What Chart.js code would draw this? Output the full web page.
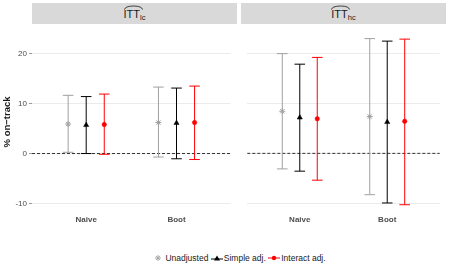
<!DOCTYPE html>
<html>
<head>
<meta charset="utf-8">
<script src="https://cdn.jsdelivr.net/npm/chart.js@4/dist/chart.umd.min.js"></script>
<style>
  body { margin: 0; width: 450px; height: 270px; background: #fff; position: relative; overflow: hidden;
         font-family: "Liberation Sans", Arial, sans-serif; }
  .strip { position: absolute; top: 3px; height: 21px; width: 205px; background: #d9d9d9;
           text-align: center; color: #1a1a1a; }
  .strip .lab { position: relative; display: inline-block; margin-top: 6px; font-size: 11px; line-height: 11px; }
  .strip .lab svg { position: absolute; left: 0; top: -4px; }
  .strip sub { font-size: 7.5px; vertical-align: -2px; }
  canvas { position: absolute; }
  #legend { position: absolute; left: 32px; width: 414px; top: 252px; text-align: center; font-size: 8.5px; color: #1a1a1a; }
  #legend span { display: inline-block; vertical-align: middle; }
  #legend svg { vertical-align: middle; margin-right: 1px; }
</style>
</head>
<body>
<div class="strip" style="left:32px"><span class="lab">ITT<sub>lc</sub><svg width="19" height="5"><path d="M0.5 4.5 Q1 1.2 9.5 1 Q18 1.2 18.5 4.5" stroke="#1a1a1a" stroke-width="0.8" fill="none"/></svg></span></div>
<div class="strip" style="left:241px"><span class="lab">ITT<sub>hc</sub><svg width="19" height="5"><path d="M0.5 4.5 Q1 1.2 9.5 1 Q18 1.2 18.5 4.5" stroke="#1a1a1a" stroke-width="0.8" fill="none"/></svg></span></div>
<canvas id="lc" style="left:0;top:24px"></canvas>
<canvas id="hc" style="left:241px;top:24px"></canvas>
<div id="legend">
  <svg width="12" height="8"><path d="M6 1V7M3 4H9M3.9 1.9L8.1 6.1M8.1 1.9L3.9 6.1" stroke="#a0a0a0" stroke-width="0.9"/></svg><span>Unadjusted</span>
  <svg width="12" height="8"><line x1="0" y1="5" x2="12" y2="5" stroke="#000"/><path d="M6 1.5L9 6.5H3Z" fill="#000"/></svg><span>Simple adj.</span>
  <svg width="12" height="8"><line x1="0" y1="4" x2="12" y2="4" stroke="#f00"/><circle cx="6" cy="4" r="2.2" fill="#f00"/></svg><span>Interact adj.</span>
</div>
<script>
// categories and series
const categories = ['Naive', 'Boot'];
const seriesNames = ['Unadjusted', 'Simple adj.', 'Interact adj.'];
const seriesColors = ['#a0a0a0', '#000000', '#ff0000'];
const seriesShapes = ['star', 'triangle', 'circle'];
const seriesRadius = [3, 3, 2.2];
const dodge = [-0.2, 0, 0.2];
const yTicks = [-10, 0, 10, 20];

// ITT lc  (Naive, Boot)
const lcUnadjEst = [5.9, 6.2];
const lcUnadjLo = [0.25, -0.7];
const lcUnadjHi = [11.65, 13.3];
const lcSimpleEst = [5.7, 6.1];
const lcSimpleLo = [0.0, -1.05];
const lcSimpleHi = [11.4, 13.1];
const lcInteractEst = [5.8, 6.2];
const lcInteractLo = [-0.15, -1.2];
const lcInteractHi = [11.9, 13.5];

// ITT hc  (Naive, Boot)
const hcUnadjEst = [8.4, 7.35];
const hcUnadjLo = [-3.1, -8.25];
const hcUnadjHi = [19.9, 22.9];
const hcSimpleEst = [7.15, 6.25];
const hcSimpleLo = [-3.55, -9.9];
const hcSimpleHi = [17.8, 22.4];
const hcInteractEst = [6.9, 6.4];
const hcInteractLo = [-5.35, -10.25];
const hcInteractHi = [19.15, 22.8];

function buildDatasets(est, lo, hi) {
    const pts = [], bars = [];
    seriesNames.forEach((name, s) => {
        pts.push({
            label: name,
            type: 'scatter',
            data: categories.map((c, i) => ({ x: i + 1 + dodge[s], y: est[s][i] })),
            pointStyle: seriesShapes[s],
            pointRadius: seriesRadius[s],
            pointBackgroundColor: seriesColors[s],
            pointBorderColor: seriesColors[s],
            pointBorderWidth: s === 0 ? 1 : 0.5,
            showLine: false
        });
        bars.push({
            label: name + ' CI',
            type: 'line',
            data: categories.flatMap((c, i) => [
                { x: i + 1 + dodge[s], y: lo[s][i] },
                { x: i + 1 + dodge[s], y: hi[s][i] },
                { x: i + 1 + dodge[s], y: null }
            ]),
            borderColor: seriesColors[s],
            borderWidth: 1,
            pointStyle: 'line',
            pointRadius: 5.3,
            pointBorderWidth: 1,
            pointBorderColor: seriesColors[s],
            spanGaps: false,
            fill: false
        });
    });
    return pts.concat(bars);
}

// Nulllinie gestrichelt
const zeroLine = {
    id: 'zeroLine',
    beforeDatasetsDraw(chart) {
        const { ctx, chartArea, scales } = chart;
        const y = scales.y.getPixelForValue(0);
        ctx.save();
        ctx.strokeStyle = '#000';
        ctx.lineWidth = 0.8;
        ctx.setLineDash([3, 2]);
        ctx.beginPath();
        ctx.moveTo(chartArea.left, y);
        ctx.lineTo(chartArea.right, y);
        ctx.stroke();
        ctx.restore();
    }
};

function makeChart(id, width, datasets, showY) {
    const cv = document.getElementById(id);
    cv.width = width; cv.height = 210;
    cv.style.width = width + 'px'; cv.style.height = '210px';
    return new Chart(cv, {
        type: 'scatter',
        data: { datasets },
        options: {
            responsive: false,
            animation: false,
            layout: { padding: 0 },
            plugins: { legend: { display: false }, tooltip: { enabled: false } },
            scales: {
                x: {
                    type: 'linear', min: 0.4, max: 2.6,
                    afterBuildTicks: a => { a.ticks = categories.map((c, i) => ({ value: i + 1 })); },
                    afterFit: a => { a.height = 21; },
                    grid: { display: false, drawTicks: false },
                    border: { display: false },
                    ticks: {
                        padding: 2,
                        color: '#4d4d4d',
                        font: { size: 8, weight: 'bold', family: '"Liberation Sans", Arial, sans-serif' },
                        callback: v => categories[v - 1]
                    }
                },
                y: {
                    min: -11.9, max: 24.56,
                    afterBuildTicks: a => { a.ticks = yTicks.map(v => ({ value: v })); },
                    afterFit: a => { a.width = showY ? 32 : 0; },
                    grid: { color: '#ebebeb', lineWidth: 1, drawTicks: showY, tickLength: 3, tickColor: '#999' },
                    border: { display: false },
                    ticks: {
                        display: showY,
                        padding: 2,
                        color: '#4d4d4d',
                        font: { size: 8, family: '"Liberation Sans", Arial, sans-serif' }
                    },
                    title: {
                        display: showY, text: '% on\u2212track', color: '#1a1a1a',
                        padding: { top: 2, bottom: 0 },
                        font: { size: 9.5, weight: 'bold', family: '"Liberation Sans", Arial, sans-serif' }
                    }
                }
            }
        },
        plugins: [zeroLine]
    });
}

makeChart('lc', 237, buildDatasets(
    [lcUnadjEst, lcSimpleEst, lcInteractEst],
    [lcUnadjLo, lcSimpleLo, lcInteractLo],
    [lcUnadjHi, lcSimpleHi, lcInteractHi]), true);

makeChart('hc', 205, buildDatasets(
    [hcUnadjEst, hcSimpleEst, hcInteractEst],
    [hcUnadjLo, hcSimpleLo, hcInteractLo],
    [hcUnadjHi, hcSimpleHi, hcInteractHi]), false);
</script>
</body>
</html>
